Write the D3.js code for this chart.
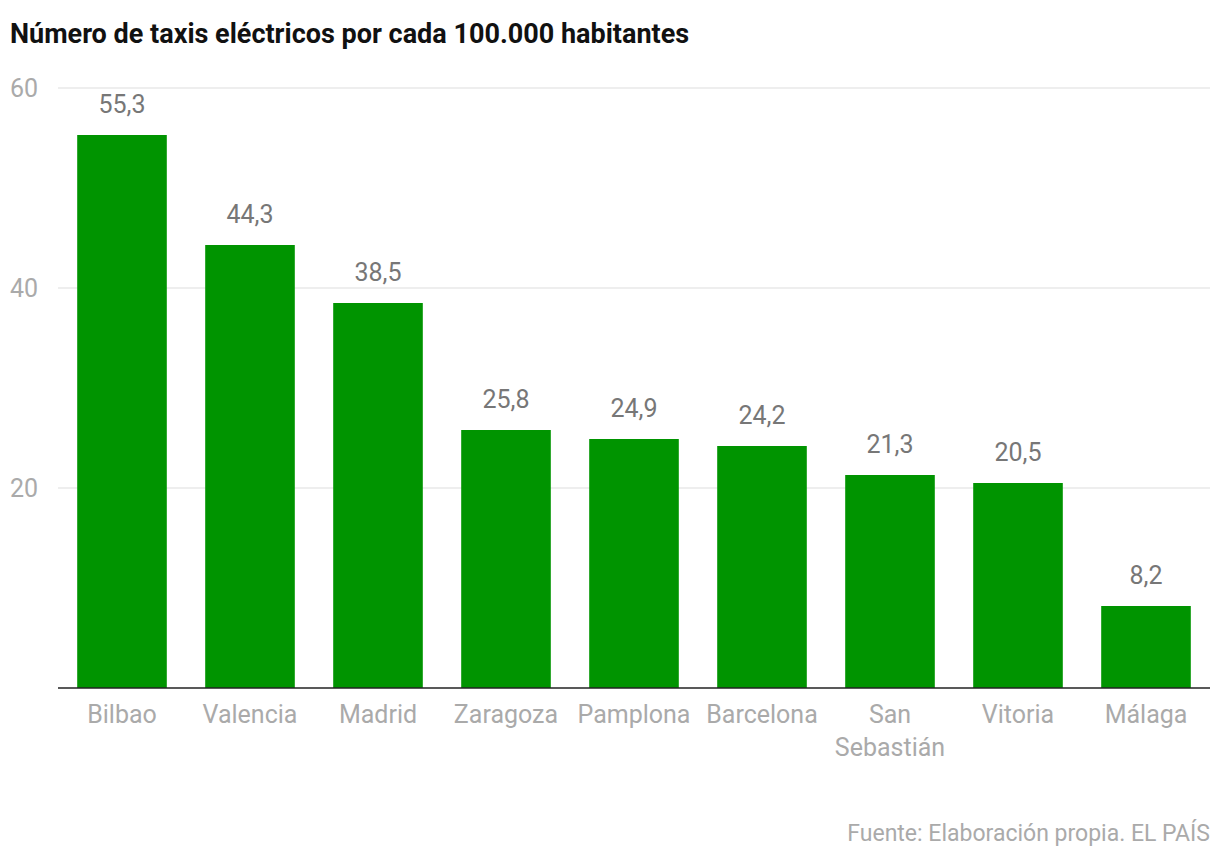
<!DOCTYPE html>
<html><head><meta charset="utf-8">
<script src="https://cdn.jsdelivr.net/npm/d3@7"></script>
<style>body{margin:0;background:#fff;font-family:Roboto,"Noto Sans",sans-serif}</style>
</head><body><svg id="c" width="1220" height="864"></svg>
<script>
const cities = ["Bilbao","Valencia","Madrid","Zaragoza","Pamplona","Barcelona","San\nSebastián","Vitoria","Málaga"];
const values = [55.3,44.3,38.5,25.8,24.9,24.2,21.3,20.5,8.2];
const yTicks = [20,40,60];

const svg = d3.select("#c");
const x = d3.scaleBand().domain(cities).range([58,1210]).paddingInner(0.3).paddingOuter(0.15);
const y = d3.scaleLinear().domain([0,60]).range([688,88]);
const fmt = d => d.toFixed(1).replace(".", ",");

svg.append("text").attr("x",10).attr("y",43).attr("font-size",27).attr("font-weight",700)
  .attr("fill","#111").text("Número de taxis eléctricos por cada 100.000 habitantes");

// grid
svg.selectAll(".grid").data(yTicks).join("line")
  .attr("x1",58).attr("x2",1210).attr("y1",d=>y(d)).attr("y2",d=>y(d))
  .attr("stroke","#ddd").attr("stroke-width",1);
svg.selectAll(".yl").data(yTicks).join("text")
  .attr("x",10).attr("y",d=>y(d)+9).attr("font-size",25).attr("fill","#aaa").text(d=>d);

svg.selectAll(".bar").data(values).join("rect")
  .attr("x",(d,i)=>x(cities[i])).attr("width",x.bandwidth())
  .attr("y",d=>y(d)).attr("height",d=>y(0)-y(d)).attr("fill","#009400");

svg.selectAll(".vl").data(values).join("text")
  .attr("x",(d,i)=>x(cities[i])+x.bandwidth()/2).attr("y",d=>y(d)-22)
  .attr("text-anchor","middle").attr("font-size",25).attr("fill","#777").text(fmt);

svg.append("line").attr("x1",58).attr("x2",1210).attr("y1",y(0)).attr("y2",y(0))
  .attr("stroke","#222").attr("stroke-width",1.5);

const cl = svg.selectAll(".cl").data(cities).join("text")
  .attr("x",d=>x(d)+x.bandwidth()/2).attr("y",723)
  .attr("text-anchor","middle").attr("font-size",25).attr("fill","#aaa");
cl.selectAll("tspan").data(d=>d.split("\n")).join("tspan")
  .attr("x",function(){return this.parentNode.getAttribute("x");})
  .attr("dy",(d,i)=>i?33:0).text(d=>d);

svg.append("text").attr("x",1210).attr("y",841).attr("text-anchor","end")
  .attr("font-size",23).attr("fill","#aaa").text("Fuente: Elaboración propia. EL PAÍS");
</script></body></html>
